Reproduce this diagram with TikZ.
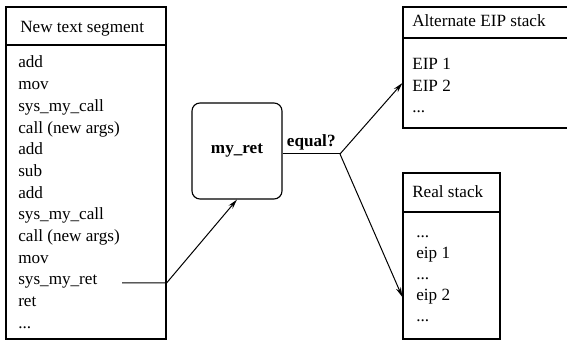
\documentclass[tikz,border=0pt]{standalone}
\usepackage{fontspec}
\setmainfont{Liberation Serif}
\usetikzlibrary{arrows.meta}
\newcommand{\moredots}{...}
\tikzset{
  box/.style={draw, line width=0.8pt, inner sep=0pt},
  item/.style={anchor=base west, inner sep=0pt, font=\fontsize{12}{14}\selectfont},
  conn/.style={line width=0.7pt},
  arr/.style={conn, -{Stealth[length=7pt,width=3.6pt]}},
}
\begin{document}
\begin{tikzpicture}[x=0.7pt,y=-0.7pt]
\clip (0,0) rectangle (567,342);
% new text segment
\node[box, minimum width=112pt, minimum height=26.6pt] (texthead) at (86,26) {};
\node[box, minimum width=112pt, minimum height=205.8pt] (textbody) at (86,192) {};
\node[item] at (20,33) {New text segment};
\foreach \op [count=\i] in {add,mov,sys\_my\_call,call (new args),add,sub,add,sys\_my\_call,call (new args),mov,sys\_my\_ret,ret,\moredots}
  \node[item] (op\i) at (18,{68+21.7*(\i-1)}) {\op};
% check
\node[box, rounded corners=5.6pt, minimum width=63pt, minimum height=67.2pt, font=\fontsize{12}{14}\selectfont\bfseries] (myret) at (237,151) {my\_ret};
\coordinate (retout) at (122,283);
\coordinate (split) at (340,154);
% alternate stack
\node[box, minimum width=119pt, minimum height=21.7pt] (althead) at (488,22.5) {};
\node[box, minimum width=119pt, minimum height=63pt] (altbody) at (488,83) {};
\node[item] at (412,27) {Alternate EIP stack};
\node[item] (alt1) at (412,70) {EIP 1};
\node[item] (alt2) at (412,91.5) {EIP 2};
\node[item] (alt3) at (412,113) {\moredots};
% real stack
\node[box, minimum width=67.9pt, minimum height=27.3pt] (realhead) at (451.5,192.5) {};
\node[box, minimum width=67.9pt, minimum height=88.9pt] (realbody) at (451.5,275.5) {};
\node[item] at (412,198) {Real stack};
\foreach \e [count=\i] in {\moredots,eip 1,\moredots,eip 2,\moredots}
  \node[item] (real\i) at (416,{238+21*(\i-1)}) {\e};
% connectors
\draw[arr] (retout) -- (textbody.east |- retout) -- (myret.south);
\draw[conn] (myret.east |- split) -- node[above, inner sep=2pt, font=\fontsize{12}{14}\selectfont\bfseries] {equal?} (split);
\draw[arr] (split) -- (altbody.west);
\draw[arr] (split) -- (realbody.west |- real4);
\end{tikzpicture}
\end{document}
